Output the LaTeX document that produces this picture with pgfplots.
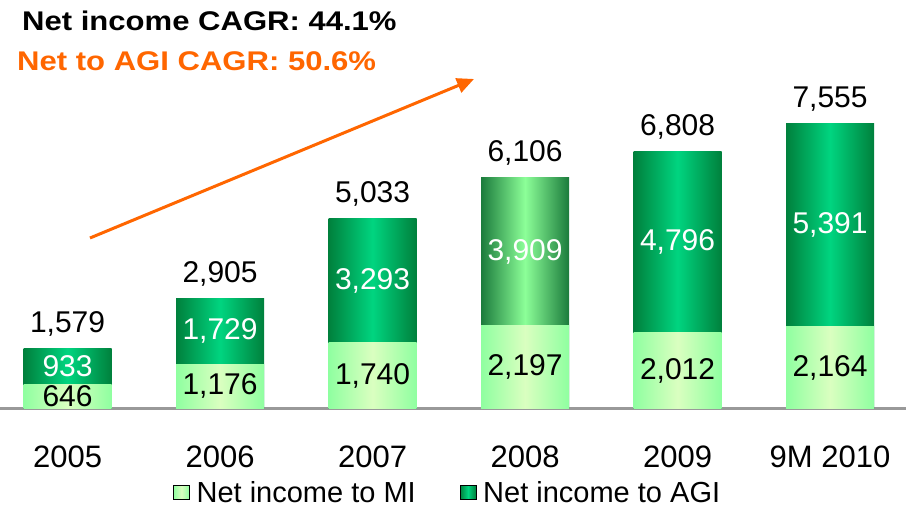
\documentclass[border=0pt]{standalone}
\usepackage{pgfplots}
\pgfplotsset{compat=1.18}
\usepackage{fontspec}
\setmainfont{Liberation Sans}
\usetikzlibrary{arrows.meta}

\definecolor{agidark}{HTML}{00803C}
\definecolor{agilight}{HTML}{00D580}
\definecolor{yrdark}{HTML}{1B7B3C}
\definecolor{yrlight}{HTML}{8CFF98}
\definecolor{miedge}{HTML}{8FFFA0}
\definecolor{mimid}{HTML}{DAFFC0}
\definecolor{axisgray}{HTML}{999999}
\definecolor{cagr}{HTML}{FF6600}

% segment labels, placed at the middle of each segment
\pgfplotstableread{
x y lab
0 1112.5 933
1 2040.5 1,729
2 3386.5 3,293
3 4151.5 3,909
4 4410 4,796
5 4859.5 5,391
}\agilabels
\pgfplotstableread{
x y lab
0 323 646
1 588 1,176
2 870 1,740
3 1098.5 2,197
4 1006 2,012
5 1082 2,164
}\milabels

\begin{document}
\begin{tikzpicture}[x=1pt,y=1pt]
  \useasboundingbox (0,0) rectangle (909,508);
  \begin{axis}[
      at={(0pt,99.5pt)}, anchor=south west,
      scale only axis, width=906pt, height=408pt,
      xmin=-0.443, xmax=5.498, ymin=0, ymax=10800,
      axis x line*=bottom, axis y line=none,
      x axis line style={draw=axisgray, line width=3pt},
      xtick={0,...,5}, xticklabels={2005,2006,2007,2008,2009,9M 2010},
      major tick length=0pt,
      xticklabel style={font=\fontsize{31}{36}\selectfont, anchor=base, yshift=-59.5pt},
      /pgf/number format/assume math mode=true,
      clip=false,
      legend columns=2,
      legend image code/.code={\path[#1] (0pt,-7pt) rectangle (16pt,7pt);},
      legend style={at={(0.191,-0.205)}, anchor=west, draw=none, fill=none,
        inner sep=0pt, font=\fontsize{29}{34}\selectfont,
        nodes={inner sep=0pt, text depth=0pt},
        /tikz/every odd column/.append style={column sep=7pt},
        /tikz/every even column/.append style={column sep=44pt}},
      bar/.style={ybar, bar width=88pt, bar shift=0pt, draw=none, forget plot},
      agi/.style={bar, left color=agidark, right color=agidark, middle color=agilight,
        nodes near coords,
        every node near coord/.append style={anchor=base, yshift=16pt,
          font=\fontsize{30}{36}\selectfont, text=black}},
      agi08/.style={agi, left color=yrdark, right color=yrdark, middle color=yrlight},
      mi/.style={bar, left color=miedge, right color=miedge, middle color=mimid},
      seglab/.style={draw=none, mark=none, forget plot, nodes near coords,
        point meta=explicit symbolic,
        every node near coord/.append style={anchor=center,
          font=\fontsize{30}{36}\selectfont}},
    ]
    \addlegendimage{left color=miedge, right color=miedge, middle color=mimid}
    \addlegendentry{Net income to MI}
    \addlegendimage{left color=agidark, right color=agidark, middle color=agilight}
    \addlegendentry{Net income to AGI}

    % one plot per bar so that each bar gets its own shading:
    % full height (MI + AGI) first, then the MI part over it
    \addplot[agi]   coordinates {(0,1579)};
    \addplot[mi]    coordinates {(0,646)};
    \addplot[agi]   coordinates {(1,2905)};
    \addplot[mi]    coordinates {(1,1176)};
    \addplot[agi]   coordinates {(2,5033)};
    \addplot[mi]    coordinates {(2,1740)};
    \addplot[agi08] coordinates {(3,6106)};
    \addplot[mi]    coordinates {(3,2197)};
    \addplot[agi]   coordinates {(4,6808)};
    \addplot[mi]    coordinates {(4,2012)};
    \addplot[agi]   coordinates {(5,7555)};
    \addplot[mi]    coordinates {(5,2164)};

    \addplot[seglab, every node near coord/.append style={text=white}]
      table[x=x, y=y, meta=lab] {\agilabels};
    \addplot[seglab, every node near coord/.append style={text=black}]
      table[x=x, y=y, meta=lab] {\milabels};
  \end{axis}

  \node[anchor=base west, inner sep=0pt, xscale=1.15, font=\fontsize{27}{32}\selectfont\bfseries]
    at (22,477) {Net income CAGR: 44.1\%};
  \node[anchor=base west, inner sep=0pt, xscale=1.15, text=cagr, font=\fontsize{27}{32}\selectfont\bfseries]
    at (17,437) {Net to AGI CAGR: 50.6\%};
  \draw[cagr, line width=3pt, -{Triangle[length=17pt, width=15pt]}] (90,270) -- (474,429);
\end{tikzpicture}
\end{document}
